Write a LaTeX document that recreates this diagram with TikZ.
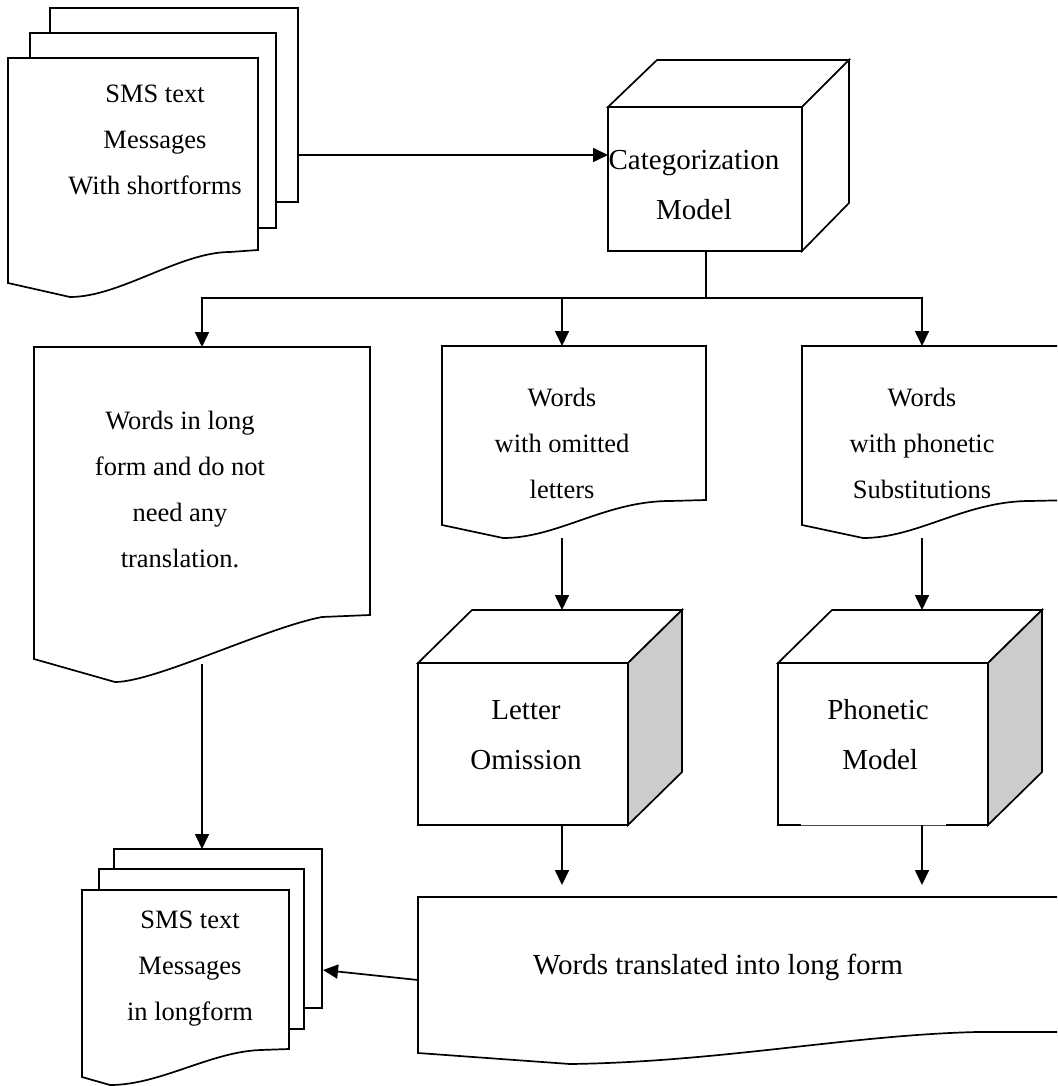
\documentclass[tikz,border=0pt]{standalone}
\usepackage{fontspec}
\setmainfont{Liberation Serif}
\usetikzlibrary{arrows.meta}
\definecolor{sidegray}{RGB}{204,204,204}
\tikzset{
  ln/.style={line width=1.7pt, line join=miter},
  arr/.style={ln, -{Triangle[length=15pt,width=14pt]}},
  page/.style={ln, fill=white},
  txt/.style={align=center, inner sep=0pt, font=\fontsize{26.5}{46}\selectfont},
  bigtxt/.style={align=center, inner sep=0pt, font=\fontsize{29}{50}\selectfont},
}
\begin{document}
\begin{tikzpicture}[x=1pt,y=-1pt]
\useasboundingbox (0,0) rectangle (1057,1086);
\clip (0,0) rectangle (1057,1086);

% ---------- top stack of documents ----------
\draw[page] (50,8) rectangle (298,202);
\draw[page] (30,33) rectangle (276,228);
\draw[page] (8,58) -- (258,58) -- (258,250) -- (230,252)
  .. controls (180,252) and (120,297) .. (70,297) -- (8,283) -- cycle;
\node[txt] (sms1) at (155,140) {SMS text\\Messages\\With shortforms};
\coordinate (sms1out) at (298,155);

% ---------- categorization cube ----------
\draw[ln, fill=white] (608,107) rectangle (802,251);
\draw[ln, fill=white] (608,107) -- (657,60) -- (849,60) -- (802,107) -- cycle;
\draw[ln, fill=white] (802,107) -- (849,60) -- (849,203) -- (802,251) -- cycle;
\node[bigtxt] (cat) at (694,185) {Categorization\\Model};
\coordinate (catin) at (608,155);
\coordinate (catout) at (706,251);
\coordinate (split) at (706,298);

% ---------- left document ----------
\draw[page] (34,347) -- (370,347) -- (370,615) -- (322,617)
  .. controls (265,628) and (155,682) .. (115,682) -- (34,659) -- cycle;
\node[txt] (docL) at (180,489) {Words in long\\form and do not\\need any\\translation.};
\coordinate (docLin) at (202,347);
\coordinate (docLout) at (202,664);

% ---------- middle document ----------
\draw[page] (442,346) -- (706,346) -- (706,500) -- (670,501)
  .. controls (605,501) and (558,538) .. (503,538) -- (442,525) -- cycle;
\node[txt] (docM) at (562,443) {Words\\with omitted\\letters};
\coordinate (docMin) at (562,346);
\coordinate (docMout) at (562,538);

% ---------- right document ----------
\draw[page] (802,346) -- (1075,346) -- (1075,500) -- (1030,501)
  .. controls (965,501) and (918,538) .. (863,538) -- (802,525) -- cycle;
\node[txt] (docR) at (922,443) {Words\\with phonetic\\Substitutions};
\coordinate (docRin) at (922,346);
\coordinate (docRout) at (922,538);

% ---------- letter omission cube ----------
\draw[ln, fill=white] (418,663) rectangle (628,825);
\draw[ln, fill=white] (418,663) -- (472,610) -- (682,610) -- (628,663) -- cycle;
\draw[ln, fill=sidegray] (628,663) -- (682,610) -- (682,772) -- (628,825) -- cycle;
\node[bigtxt] (letter) at (526,735) {Letter\\Omission};
\coordinate (letterin) at (562,610);
\coordinate (letterout) at (562,825);

% ---------- phonetic cube ----------
\fill[white] (778,663) rectangle (988,825);
\draw[ln] (801,825) -- (778,825) -- (778,663) -- (988,663) -- (988,825) -- (946,825);
\draw[line width=0.6pt, black!70] (801,825) -- (946,825);
\draw[ln, fill=white] (778,663) -- (832,610) -- (1042,610) -- (988,663) -- cycle;
\draw[ln, fill=sidegray] (988,663) -- (1042,610) -- (1042,772) -- (988,825) -- cycle;
\node[bigtxt, align=left] (phon) at (878,735) {Phonetic\\\hspace*{15pt}Model};
\coordinate (phonin) at (922,610);
\coordinate (phonout) at (922,825);

% ---------- translated document ----------
\draw[page] (418,897) -- (1075,897) -- (1075,1032) -- (977,1032)
  .. controls (850,1035) and (720,1062) .. (570,1064) -- (418,1053) -- cycle;
\node[bigtxt] (trans) at (718,967) {Words translated into long form};
\coordinate (transin1) at (562,885);
\coordinate (transin2) at (922,885);
\coordinate (transout) at (418,980);

% ---------- bottom stack of documents ----------
\draw[page] (114,849) rectangle (322,1008);
\draw[page] (99,869) rectangle (304,1029);
\draw[page] (82,890) -- (289,890) -- (289,1049) -- (260,1050)
  .. controls (210,1052) and (160,1085) .. (110,1085) -- (82,1077) -- cycle;
\node[txt] (sms2) at (190,969) {SMS text\\Messages\\in longform};
\coordinate (sms2top) at (202,849);
\coordinate (sms2side) at (323,970);

% ---------- connectors ----------
\draw[arr] (sms1out) -- (catin);
\draw[ln] (catout) -- (split);
\draw[arr] (split) -| (docLin);
\draw[arr] (split) -| (docMin);
\draw[arr] (split) -| (docRin);
\draw[arr] (docLout) -- (sms2top);
\draw[arr] (docMout) -- (letterin);
\draw[arr] (docRout) -- (phonin);
\draw[arr] (letterout) -- (transin1);
\draw[arr] (phonout) -- (transin2);
\draw[arr] (transout) -- (sms2side);
\end{tikzpicture}
\end{document}
